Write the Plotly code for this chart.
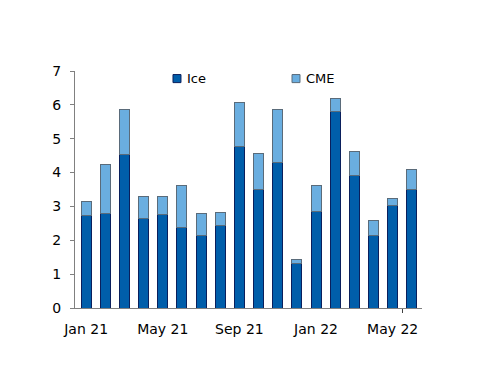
import plotly.graph_objects as go

months = ["Jan 21", "Feb 21", "Mar 21", "Apr 21", "May 21", "Jun 21", "Jul 21", "Aug 21",
          "Sep 21", "Oct 21", "Nov 21", "Dec 21", "Jan 22", "Feb 22", "Mar 22", "Apr 22",
          "May 22", "Jun 22"]
ice = [2.74, 2.80, 4.53, 2.63, 2.75, 2.37, 2.13, 2.43, 4.76, 3.49, 4.30, 1.31, 2.84, 5.81,
       3.91, 2.13, 3.03, 3.50]
total = [3.14, 4.23, 5.87, 3.28, 3.29, 3.61, 2.80, 2.83, 6.07, 4.56, 5.85, 1.42, 3.62, 6.18,
         4.62, 2.59, 3.24, 4.08]
cme = [round(t - i, 2) for t, i in zip(total, ice)]
tick_labels = ["Jan 21", "May 21", "Sep 21", "Jan 22", "May 22"]
series_names = ["Ice", "CME"]
ice_color, cme_color = "#005EAA", "#6AAEE0"
ice_edge, cme_edge = "#0A1F5C", "#5A6B7A"

x = list(range(len(months)))
tickvals = [months.index(m) for m in tick_labels]

fig = go.Figure()
fig.add_trace(go.Bar(x=x, y=ice, name=series_names[0], showlegend=False,
                     marker=dict(color=ice_color, line=dict(color=ice_edge, width=1)), width=0.52))
fig.add_trace(go.Bar(x=x, y=cme, name=series_names[1], showlegend=False,
                     marker=dict(color=cme_color, line=dict(color=cme_edge, width=1)), width=0.52))

# legend drawn as squares + text (compact, like the reference)
leg = [(0.2824, 0.317, ice_color, ice_edge, series_names[0]),
       (0.6254, 0.660, cme_color, cme_edge, series_names[1])]
for sx, tx, col, edge, name in leg:
    fig.add_shape(type="rect", xref="paper", yref="paper", x0=sx, x1=sx + 0.023,
                  y0=0.951, y1=0.985, fillcolor=col, line=dict(color=edge, width=1))
    fig.add_annotation(xref="paper", yref="paper", x=tx, y=0.969, xanchor="left",
                       yanchor="middle", text=name, showarrow=False,
                       font=dict(size=13, color="black"))

fig.update_layout(
    barmode="stack",
    width=500, height=386,
    margin=dict(l=67, r=86, t=63, b=86),
    plot_bgcolor="white", paper_bgcolor="white",
    font=dict(family="DejaVu Sans", size=13, color="black"),
    showlegend=False,
    xaxis=dict(range=[-0.58, 17.53], tickmode="array", tickvals=tickvals,
               ticktext=tick_labels, showline=True, linecolor="#808080",
               showgrid=False, ticks="", zeroline=False, tickfont=dict(size=14),
               ticklabelstandoff=8,
               minor=dict(tickmode="array", tickvals=[16.5], ticks="outside",
                          ticklen=4, tickcolor="#404040")),
    yaxis=dict(range=[0, 7], dtick=1, showline=True, linecolor="#808080",
               showgrid=False, ticks="outside", ticklen=4, tickcolor="#808080",
               zeroline=False, ticklabelstandoff=6, tickfont=dict(size=14)),
)

fig.write_html("out.html")
